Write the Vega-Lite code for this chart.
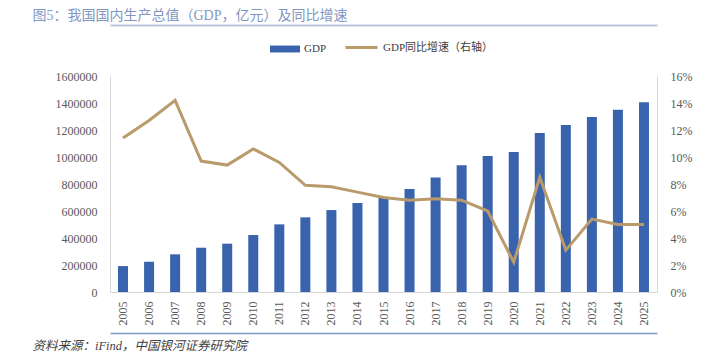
{
  "$schema": "https://vega.github.io/schema/vega-lite/v6.json",
  "width": 547,
  "height": 216,
  "autosize": {"type": "none"},
  "padding": {"left": 110, "top": 76, "right": 71, "bottom": 64},
  "background": "white",
  "config": {
    "view": {"stroke": null},
    "font": "Liberation Serif, Noto Sans CJK SC",
    "axis": {
      "labelFont": "Liberation Serif, Noto Sans CJK SC",
      "titleFont": "Liberation Serif, Noto Sans CJK SC",
      "labelColor": "#595959",
      "labelFontSize": 12,
      "ticks": false,
      "grid": false
    },
    "axisY": {"domainColor": "#D9D9D9"},
    "legend": {
      "labelFont": "Liberation Serif, Noto Sans CJK SC",
      "labelFontSize": 11,
      "labelFontWeight": "normal",
      "labelColor": "#404040",
      "padding": 0
    }
  },
  "data": {
    "values": [
      {"year": "2005", "gdp": 192000, "growth": 11.4},
      {"year": "2006", "gdp": 224000, "growth": 12.7},
      {"year": "2007", "gdp": 279000, "growth": 14.2},
      {"year": "2008", "gdp": 328000, "growth": 9.7},
      {"year": "2009", "gdp": 358000, "growth": 9.4},
      {"year": "2010", "gdp": 422000, "growth": 10.6},
      {"year": "2011", "gdp": 501000, "growth": 9.6},
      {"year": "2012", "gdp": 553000, "growth": 7.9},
      {"year": "2013", "gdp": 607000, "growth": 7.8},
      {"year": "2014", "gdp": 659000, "growth": 7.4},
      {"year": "2015", "gdp": 701000, "growth": 7.0},
      {"year": "2016", "gdp": 763000, "growth": 6.8},
      {"year": "2017", "gdp": 849000, "growth": 6.9},
      {"year": "2018", "gdp": 938000, "growth": 6.8},
      {"year": "2019", "gdp": 1007000, "growth": 6.0},
      {"year": "2020", "gdp": 1037000, "growth": 2.2},
      {"year": "2021", "gdp": 1178000, "growth": 8.5},
      {"year": "2022", "gdp": 1237000, "growth": 3.1},
      {"year": "2023", "gdp": 1296000, "growth": 5.4},
      {"year": "2024", "gdp": 1350000, "growth": 5.0},
      {"year": "2025", "gdp": 1405000, "growth": 5.0}
    ]
  },
  "layer": [
    {
      "mark": {"type": "bar", "width": 10},
      "encoding": {
        "x": {
          "field": "year",
          "type": "ordinal",
          "scale": {"paddingInner": 0, "paddingOuter": 0},
          "axis": {
            "orient": "bottom",
            "offset": 41,
            "domain": true,
            "domainColor": "#7896C8",
            "domainWidth": 1.5,
            "labelAngle": 270,
            "labelPadding": -32,
            "title": "资料来源：iFind，中国银河证券研究院",
            "titleX": -78,
            "titleY": 16,
            "titleAlign": "left",
            "titleBaseline": "alphabetic",
            "titleFontStyle": "italic",
            "titleFontWeight": "normal",
            "titleFontSize": 12.5,
            "titleColor": "#404040"
          }
        },
        "y": {
          "field": "gdp",
          "type": "quantitative",
          "scale": {"domain": [0, 1600000]},
          "axis": {
            "title": null,
            "values": [0, 200000, 400000, 600000, 800000, 1000000, 1200000, 1400000, 1600000],
            "format": "d",
            "labelPadding": 13,
            "grid": true,
            "gridColor": "#D9D9D9",
            "gridOpacity": {"condition": {"test": "datum.value === 0", "value": 1}, "value": 0}
          }
        },
        "fill": {
          "datum": "GDP",
          "scale": {"range": ["#3A63AD"]},
          "legend": {
            "title": null,
            "orient": "none",
            "legendX": 160,
            "legendY": -42,
            "symbolType": "M-1,-0.23H1V0.23H-1Z",
            "symbolSize": 900,
            "symbolStrokeWidth": 0,
            "labelOffset": 4
          }
        }
      }
    },
    {
      "mark": {"type": "line", "strokeWidth": 3},
      "encoding": {
        "x": {
          "field": "year",
          "type": "ordinal",
          "scale": {"paddingInner": 0, "paddingOuter": 0},
          "axis": {
            "orient": "top",
            "offset": 51,
            "labels": false,
            "domain": true,
            "domainColor": "#B7C5DD",
            "domainWidth": 2,
            "title": "图5：我国国内生产总值（GDP，亿元）及同比增速",
            "titleX": -78,
            "titleY": -6,
            "titleAlign": "left",
            "titleBaseline": "alphabetic",
            "titleFontWeight": "normal",
            "titleFontSize": 14,
            "titleColor": "#8396C2"
          }
        },
        "y": {
          "field": "growth",
          "type": "quantitative",
          "scale": {"domain": [0, 16]},
          "axis": {
            "orient": "right",
            "title": null,
            "values": [0, 2, 4, 6, 8, 10, 12, 14, 16],
            "labelExpr": "datum.value + '%'",
            "labelPadding": 13
          }
        },
        "stroke": {
          "datum": "GDP同比增速（右轴）",
          "scale": {"range": ["#B99A6B"]},
          "legend": {
            "title": null,
            "orient": "none",
            "legendX": 234,
            "legendY": -46,
            "symbolType": "stroke",
            "symbolSize": 1024,
            "symbolStrokeWidth": 3,
            "labelOffset": 4
          }
        }
      }
    }
  ],
  "resolve": {"scale": {"y": "independent"}, "axis": {"x": "independent"}}
}
